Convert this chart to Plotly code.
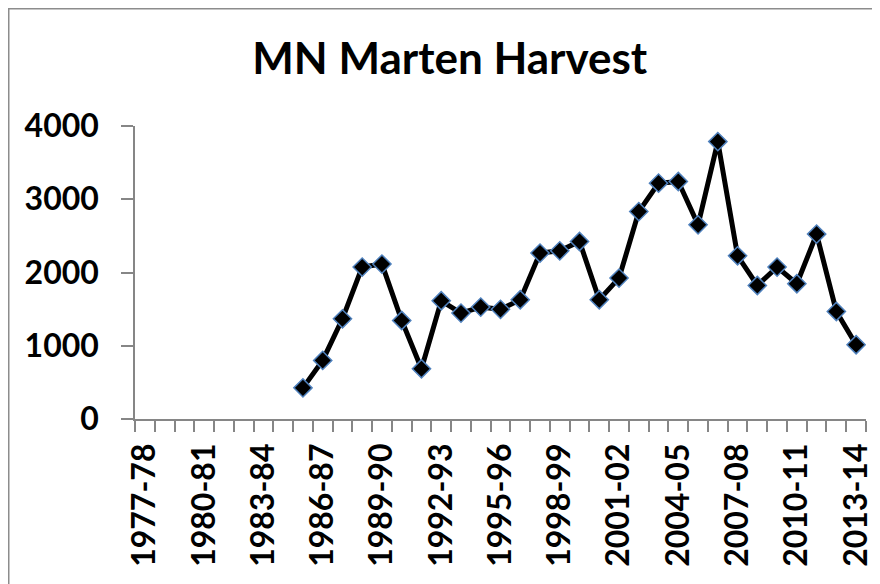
import plotly.graph_objects as go

# temporadas 1977-78 ... 2013-14
seasons = [
    "1977-78", "1978-79", "1979-80", "1980-81", "1981-82", "1982-83",
    "1983-84", "1984-85", "1985-86", "1986-87", "1987-88", "1988-89",
    "1989-90", "1990-91", "1991-92", "1992-93", "1993-94", "1994-95",
    "1995-96", "1996-97", "1997-98", "1998-99", "1999-00", "2000-01",
    "2001-02", "2002-03", "2003-04", "2004-05", "2005-06", "2006-07",
    "2007-08", "2008-09", "2009-10", "2010-11", "2011-12", "2012-13",
    "2013-14",
]
# no harvest data before 1985-86
harvest = [
    None, None, None, None, None, None, None, None,
    425, 800, 1368, 2074, 2115, 1345, 686, 1614, 1446, 1528,
    1497, 1628, 2265, 2296, 2423, 1628, 1924, 2832, 3220, 3242,
    2651, 3787, 2228, 1823, 2074, 1846, 2524, 1468, 1014,
]
y_ticks = [0, 1000, 2000, 3000, 4000]

tick_labels = [s if i % 3 == 0 else "" for i, s in enumerate(seasons)]

FONT = "Lato, 'Open Sans', sans-serif"
AXIS_COLOR = "#868686"

fig = go.Figure(go.Scatter(
    x=seasons, y=harvest,
    mode="lines+markers",
    line=dict(color="black", width=5),
    marker=dict(symbol="diamond", size=14, color="black",
                line=dict(color="#4f81bd", width=1.5)),
    connectgaps=False,
    showlegend=False,
))

fig.update_layout(
    width=880, height=584,
    margin=dict(l=127, r=22, t=118, b=173),
    paper_bgcolor="white", plot_bgcolor="white",
    font=dict(family=FONT, color="black"),
    title=dict(text="<b>MN Marten Harvest</b>", x=0.502, xanchor="center",
               y=0.914, yanchor="middle", font=dict(size=44, family=FONT)),
    # marco del gráfico
    shapes=[dict(type="rect", xref="paper", yref="paper",
                 x0=-0.1727, x1=1.2, y0=-1.0, y1=1.4,
                 line=dict(color="#8c8c8c", width=1.5), layer="below")],
)

fig.update_xaxes(
    type="category",
    range=[-0.5, len(seasons) - 0.5],
    tickmode="array", tickvals=seasons, ticktext=tick_labels,
    tickson="boundaries",
    tickangle=-90,
    ticks="outside", ticklen=11, tickwidth=1.5, tickcolor=AXIS_COLOR,
    showline=True, linecolor=AXIS_COLOR, linewidth=1.5,
    showgrid=False, zeroline=False,
    tickfont=dict(size=32, family=FONT, weight="bold"),
    ticklabelstandoff=10,
    automargin=False,
)
fig.update_yaxes(
    range=[0, 4000], tickvals=y_ticks,
    ticks="outside", ticklen=12, tickwidth=1.5, tickcolor=AXIS_COLOR,
    showline=True, linecolor=AXIS_COLOR, linewidth=1.5,
    showgrid=False, zeroline=False,
    tickfont=dict(size=32, family=FONT, weight="bold"),
    ticklabelstandoff=16,
    automargin=False,
)

fig.write_html("out.html")
